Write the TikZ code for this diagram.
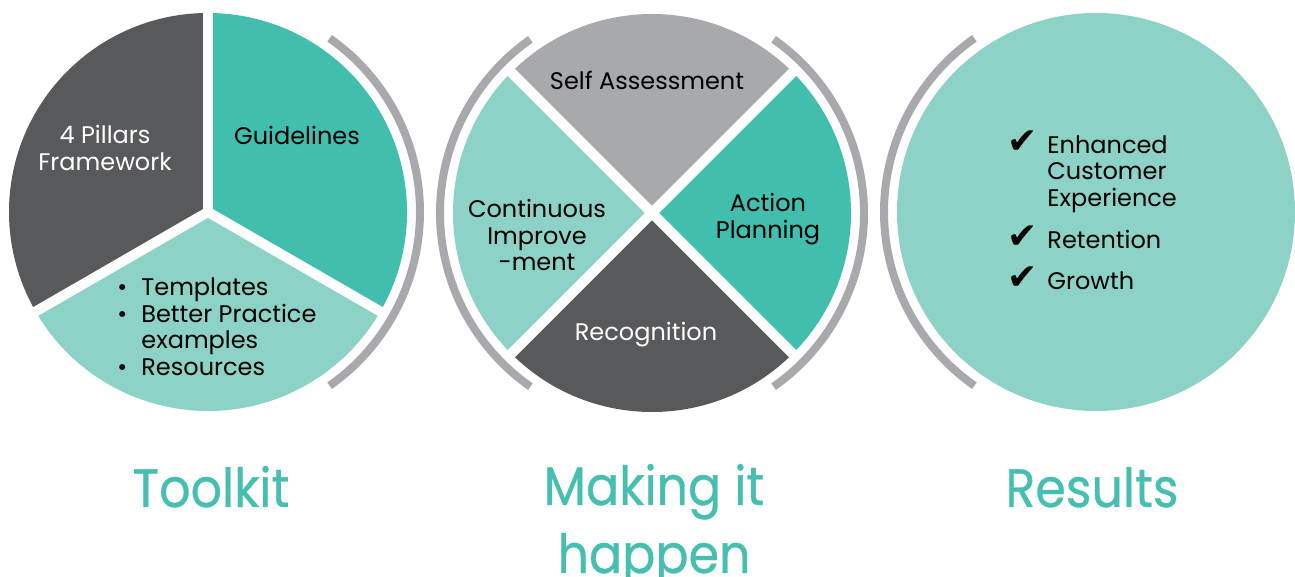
\documentclass[tikz,border=0pt]{standalone}
\usepackage{fontspec}
\setmainfont{Poppins}
\newfontfamily\titlefont[FakeStretch=0.91, FakeBold=0.6]{Poppins}
\newfontfamily\checkfont{DejaVu Sans}
\usetikzlibrary{positioning}

\definecolor{darkgrey}{HTML}{58595B}
\definecolor{midgrey}{HTML}{A7A9AC}
\definecolor{tealgreen}{HTML}{41BEAE}
\definecolor{lightteal}{HTML}{8CD2C6}
\definecolor{titleteal}{HTML}{46BFB0}

\newcommand{\tick}{\smash{\checkfont\fontsize{18}{18}\selectfont ✔}}

\begin{document}
\begin{tikzpicture}[x=0.5pt, y=0.5pt,
    gap/.style={white, line width=5pt},
    ring/.style={midgrey, line width=4pt},
    label/.style={inner sep=0pt, align=center, font=\fontsize{12}{13.3}\selectfont},
    title/.style={inner sep=0pt, align=center, anchor=base, text=titleteal,
      font=\titlefont\fontsize{27}{34}\selectfont}]
  \useasboundingbox (0,0) rectangle (1295,577);

  \coordinate (tk) at (208,365);
  \coordinate (mk) at (652,364);
  \coordinate (rs) at (1096,365);

  % toolkit pie
  \fill[darkgrey] (tk) -- ++(90:199) arc[start angle=90, end angle=210, radius=199] -- cycle;
  \fill[lightteal] (tk) -- ++(210:199) arc[start angle=210, end angle=330, radius=199] -- cycle;
  \fill[tealgreen] (tk) -- ++(330:199) arc[start angle=330, end angle=450, radius=199] -- cycle;
  \foreach \a in {90,210,330}
    \draw[gap] (tk) -- ++(\a:205);
  \draw[ring] (tk) ++(-55:212) arc[start angle=-55, end angle=55, radius=212];

  % making it happen wheel
  \foreach \a/\c in {45/midgrey, 135/lightteal, 225/darkgrey, 315/tealgreen}
    \fill[\c] (mk) -- ++(\a:199) arc[start angle=\a, delta angle=90, radius=199] -- cycle;
  \foreach \a in {45,135,225,315}
    \draw[gap] (mk) -- ++(\a:205);
  \draw[ring] (mk) ++(125:212) arc[start angle=125, end angle=235, radius=212];
  \draw[ring] (mk) ++(-55:212) arc[start angle=-55, end angle=55, radius=212];

  % results
  \fill[lightteal] (rs) circle[radius=199];
  \draw[ring] (rs) ++(125:212) arc[start angle=125, end angle=235, radius=212];

  \node[label, text=white] (pillars) at (105,429) {4 Pillars\\Framework};
  \node[label] (guide) at (297,442) {Guidelines};
  \node[label, anchor=west] (tools) at (117,247) {%
    \begin{tabular}{@{}p{12pt}@{}l@{}}
      • & Templates\\
      • & Better Practice\\
        & examples\\
      • & Resources
    \end{tabular}};

  \node[label] (self) at (647,497) {Self Assessment};
  \node[label] (improve) at (537,342) {Continuous\\Improve\\-ment};
  \node[label] (action) at (768,358) {Action\\Planning};
  \node[label, text=white] (recog) at (646,242) {Recognition};

  \node[label, anchor=west] (gains) at (1007,361) {%
    \begin{tabular}{@{}p{20pt}@{}l@{}}
      \tick & Enhanced\\
            & Customer\\
            & Experience\\[7.6pt]
      \tick & Retention\\[7.2pt]
      \tick & Growth
    \end{tabular}};

  \node[title] (toolkit) at (211,70) {Toolkit};
  \node[title] (making) at (654,4) {Making it\\happen};
  \node[title] (results) at (1092,70) {Results};
\end{tikzpicture}
\end{document}
